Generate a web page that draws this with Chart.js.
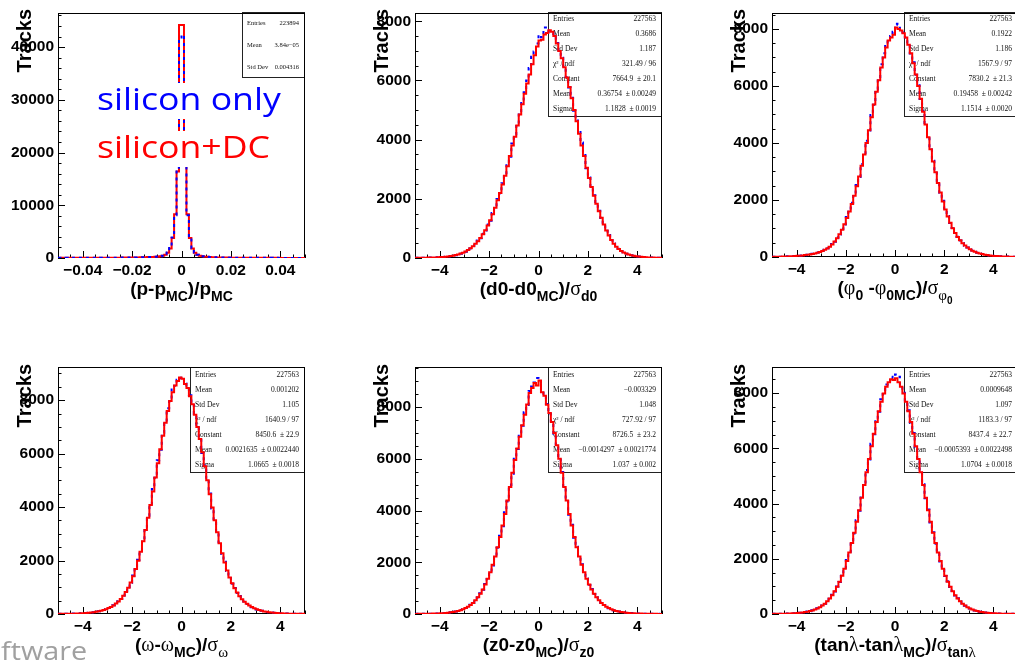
<!DOCTYPE html>
<html>
<head>
<meta charset="utf-8">
<title>Track parameter resolution</title>
<script src="https://cdn.jsdelivr.net/npm/chart.js@4.4.1/dist/chart.umd.min.js"></script>
<style>
  html, body { margin: 0; padding: 0; background: #fff; }
  body { width: 1015px; height: 660px; overflow: hidden; position: relative; }
  canvas { position: absolute; }
</style>
</head>
<body>
<canvas id="pad1" width="357" height="330" style="left:0px;top:0px"></canvas>
<canvas id="pad2" width="357" height="330" style="left:357px;top:0px"></canvas>
<canvas id="pad3" width="306" height="330" style="left:714px;top:0px"></canvas>
<canvas id="pad4" width="357" height="330" style="left:0px;top:330px"></canvas>
<canvas id="pad5" width="357" height="330" style="left:357px;top:330px"></canvas>
<canvas id="pad6" width="306" height="330" style="left:714px;top:330px"></canvas>
<script>
// tick labels
const momentumTicks = [-0.04, -0.02, 0, 0.02, 0.04];
const pullTicks = [-4, -2, 0, 2, 4];
const momentumCountTicks = [0, 10000, 20000, 30000, 40000];
const pullCountTicks = [0, 2000, 4000, 6000, 8000];

// (p-pMC)/pMC, 100 bins in [-0.05, 0.05]
const momentumBlue = [
  24, 22, 25, 27, 25, 28, 27, 31, 30, 33,
  31, 36, 37, 36, 41, 42, 41, 46, 48, 49,
  54, 56, 57, 64, 66, 69, 76, 79, 88, 94,
  98, 110, 116, 130, 138, 155, 168, 180, 204, 232,
  265, 330, 430, 620, 1050, 1900, 3900, 8100, 17100, 41800,
  42300, 17200, 8100, 3900, 1850, 1050, 620, 430, 330, 265,
  220, 178, 152, 128, 117, 101, 95, 83, 80, 70,
  68, 60, 59, 53, 52, 47, 46, 42, 41, 37,
  37, 33, 34, 30, 31, 27, 28, 25, 26, 23,
  24, 21, 23, 20, 21, 19, 20, 17, 19, 16
];
const momentumRed = [
  22, 24, 23, 26, 27, 25, 29, 30, 28, 32,
  33, 35, 34, 38, 40, 39, 43, 45, 47, 50,
  52, 55, 58, 62, 65, 70, 74, 80, 86, 92,
  100, 108, 118, 128, 140, 152, 166, 182, 200, 228,
  260, 320, 420, 600, 1000, 1800, 3800, 8300, 16400, 44200,
  44200, 17500, 8300, 3800, 1800, 1000, 600, 420, 320, 260,
  215, 180, 150, 130, 115, 103, 93, 85, 78, 72,
  66, 62, 58, 54, 51, 48, 45, 43, 40, 38,
  36, 34, 33, 31, 30, 28, 27, 26, 25, 24,
  23, 22, 22, 21, 20, 20, 19, 18, 18, 17
];

// pulls, 100 bins in [-5, 5]
const d0Blue = [
  7, 6, 9, 10, 10, 14, 16, 17, 22, 26,
  29, 38, 42, 55, 63, 83, 95, 124, 145, 185,
  215, 278, 325, 410, 470, 590, 670, 820, 930, 1130,
  1260, 1520, 1680, 1990, 2180, 2530, 2760, 3180, 3420, 3870,
  4180, 4530, 4900, 5280, 5600, 6000, 6420, 6800, 6980, 7250,
  7540, 7460, 7790, 7700, 7650, 7620, 7480, 7270, 6980, 6770,
  6420, 6120, 5760, 5420, 4980, 4650, 4330, 3900, 3480, 3030,
  2720, 2380, 2120, 1810, 1600, 1350, 1150, 920, 775, 600,
  490, 375, 310, 235, 195, 145, 124, 92, 79, 58,
  51, 38, 33, 25, 22, 16, 15, 10, 10, 6
];
const d0Red = [
  6, 7, 8, 9, 11, 13, 15, 18, 21, 25,
  30, 36, 44, 53, 65, 80, 98, 120, 148, 180,
  220, 270, 330, 400, 480, 570, 680, 800, 940, 1100,
  1280, 1480, 1700, 1950, 2200, 2480, 2780, 3100, 3450, 3800,
  4100, 4480, 4850, 5200, 5550, 5900, 6200, 6550, 6850, 7150,
  7350, 7380, 7550, 7600, 7700, 7650, 7500, 7250, 7000, 6750,
  6450, 6100, 5780, 5400, 5000, 4620, 4200, 3800, 3450, 3050,
  2700, 2400, 2100, 1830, 1580, 1360, 1130, 930, 760, 610,
  480, 380, 300, 240, 190, 150, 120, 95, 76, 61,
  49, 40, 32, 26, 21, 17, 14, 11, 9, 7
];

const phi0Blue = [
  9, 8, 12, 12, 16, 17, 22, 24, 31, 34,
  43, 47, 58, 64, 80, 90, 111, 125, 154, 176,
  218, 250, 310, 355, 452, 535, 680, 790, 985, 1140,
  1400, 1590, 1900, 2140, 2530, 2810, 3260, 3590, 4080, 4440,
  4980, 5340, 5880, 6250, 6760, 7150, 7450, 7600, 7750, 7900,
  8185, 8150, 7950, 7880, 7700, 7470, 7140, 6830, 6390, 6030,
  5540, 5130, 4640, 4230, 3770, 3380, 2960, 2630, 2250, 1970,
  1660, 1440, 1190, 1020, 840, 712, 580, 490, 397, 334,
  266, 225, 180, 152, 121, 103, 81, 70, 55, 47,
  37, 32, 25, 22, 16, 15, 11, 11, 7, 8
];
const phi0Red = [
  8, 9, 11, 13, 15, 18, 21, 25, 30, 35,
  41, 48, 56, 66, 78, 92, 108, 127, 150, 178,
  212, 252, 300, 360, 440, 540, 660, 800, 960, 1150,
  1370, 1600, 1860, 2150, 2480, 2820, 3200, 3600, 4000, 4450,
  4900, 5350, 5800, 6200, 6650, 7000, 7350, 7600, 7700, 7800,
  8050, 8000, 7950, 7850, 7700, 7450, 7150, 6800, 6400, 6000,
  5550, 5100, 4650, 4200, 3780, 3350, 2970, 2600, 2260, 1950,
  1670, 1420, 1200, 1010, 845, 705, 585, 485, 400, 330,
  270, 222, 182, 150, 123, 101, 83, 68, 56, 46,
  38, 31, 26, 21, 17, 14, 12, 10, 8, 7
];

const omegaBlue = [
  6, 5, 8, 9, 9, 13, 15, 16, 22, 24,
  32, 36, 47, 54, 70, 80, 104, 120, 154, 178,
  226, 262, 330, 385, 480, 560, 695, 815, 1005, 1170,
  1440, 1670, 2030, 2320, 2780, 3130, 3680, 4060, 4680, 5100,
  5750, 6140, 6780, 7130, 7700, 7960, 8400, 8540, 8760, 8820,
  8850, 8620, 8420, 8180, 7820, 7480, 6980, 6580, 6020, 5560,
  4970, 4510, 3950, 3540, 3030, 2680, 2250, 1950, 1610, 1390,
  1130, 975, 790, 672, 540, 466, 374, 320, 255, 219,
  173, 149, 117, 100, 78, 67, 52, 45, 35, 31,
  24, 21, 16, 15, 11, 10, 7, 8, 5, 6
];
const omegaRed = [
  5, 6, 7, 8, 10, 12, 14, 17, 21, 25,
  30, 37, 45, 55, 67, 82, 100, 122, 149, 181,
  220, 266, 322, 390, 470, 565, 680, 820, 985, 1180,
  1410, 1680, 1990, 2330, 2720, 3140, 3600, 4080, 4580, 5110,
  5640, 6160, 6670, 7150, 7590, 7970, 8300, 8550, 8720, 8850,
  8800, 8600, 8450, 8150, 7850, 7450, 7000, 6550, 6050, 5530,
  5000, 4480, 3980, 3510, 3060, 2650, 2270, 1930, 1630, 1370,
  1150, 960, 800, 662, 550, 458, 380, 314, 260, 215,
  177, 146, 120, 98, 80, 66, 54, 44, 36, 30,
  25, 20, 17, 14, 12, 10, 8, 7, 6, 5
];

const z0Blue = [
  5, 4, 7, 6, 9, 9, 13, 14, 19, 21,
  28, 32, 43, 49, 66, 76, 100, 118, 153, 182,
  235, 279, 358, 424, 541, 638, 800, 940, 1160, 1350,
  1640, 1880, 2260, 2560, 3030, 3390, 3930, 4350, 4990, 5420,
  6050, 6380, 6950, 7280, 7800, 8080, 8620, 8800, 8950, 9120,
  8990, 8600, 8420, 8120, 7740, 7450, 6970, 6550, 5970, 5490,
  4890, 4410, 3840, 3450, 2950, 2600, 2200, 1920, 1590, 1375,
  1125, 962, 775, 652, 522, 437, 344, 288, 225, 189,
  146, 123, 95, 80, 61, 52, 40, 34, 26, 23,
  17, 16, 11, 11, 7, 8, 5, 6, 4, 5
];
const z0Red = [
  4, 5, 6, 7, 8, 10, 12, 15, 18, 22,
  27, 33, 41, 51, 63, 78, 97, 120, 149, 185,
  229, 283, 350, 430, 530, 645, 785, 950, 1140, 1360,
  1610, 1900, 2220, 2580, 2980, 3420, 3870, 4385, 4915, 5460,
  5950, 6400, 6850, 7300, 7700, 8100, 8540, 8740, 8930, 8830,
  9030, 8570, 8440, 8090, 7770, 7420, 7000, 6520, 6000, 5460,
  4915, 4385, 3870, 3420, 2980, 2580, 2220, 1900, 1610, 1360,
  1140, 950, 785, 645, 530, 430, 350, 283, 229, 185,
  149, 120, 97, 78, 63, 51, 41, 33, 27, 22,
  18, 15, 12, 10, 8, 7, 6, 5, 4, 4
];

const tanlBlue = [
  6, 5, 8, 7, 11, 12, 17, 18, 25, 28,
  38, 44, 57, 66, 88, 103, 134, 160, 206, 245,
  312, 372, 470, 555, 695, 815, 1000, 1160, 1420, 1630,
  1960, 2210, 2620, 2920, 3400, 3740, 4280, 4650, 5220, 5600,
  6170, 6510, 7060, 7330, 7780, 7970, 8320, 8390, 8600, 8550,
  8680, 8600, 8250, 8020, 7680, 7380, 6940, 6560, 6060, 5650,
  5120, 4700, 4190, 3790, 3320, 2960, 2550, 2250, 1900, 1660,
  1375, 1185, 975, 830, 672, 568, 454, 380, 300, 252,
  197, 165, 128, 107, 83, 70, 54, 46, 35, 30,
  23, 20, 15, 14, 9, 9, 6, 7, 4, 5
];
const tanlRed = [
  5, 6, 7, 8, 10, 13, 16, 19, 24, 29,
  36, 45, 55, 68, 85, 105, 130, 162, 200, 248,
  305, 375, 460, 560, 680, 820, 985, 1170, 1390, 1640,
  1920, 2230, 2570, 2940, 3340, 3760, 4210, 4670, 5140, 5620,
  6080, 6530, 6960, 7350, 7690, 7990, 8230, 8400, 8510, 8480,
  8540, 8400, 8230, 7990, 7690, 7350, 6960, 6530, 6080, 5620,
  5140, 4670, 4210, 3760, 3340, 2940, 2570, 2230, 1920, 1640,
  1390, 1170, 985, 820, 680, 560, 460, 375, 305, 248,
  200, 162, 130, 105, 85, 68, 55, 45, 36, 29,
  24, 19, 16, 13, 10, 8, 7, 6, 5, 4
];

// statistics boxes
const momentumStats = [['Entries', '223894'], ['Mean', '3.84e\u221205'], ['Std Dev', '0.004316']];
const d0Stats = [['Entries', '227563'], ['Mean', '0.3686'], ['Std Dev', '1.187'], ['\u03c7\u00b2 / ndf', '321.49 / 96'],
  ['Constant', '7664.9  \u00b1 20.1'], ['Mean', '0.36754  \u00b1 0.00249'], ['Sigma', '1.1828  \u00b1 0.0019']];
const phi0Stats = [['Entries', '227563'], ['Mean', '0.1922'], ['Std Dev', '1.186'], ['\u03c7\u00b2 / ndf', '1567.9 / 97'],
  ['Constant', '7830.2  \u00b1 21.3'], ['Mean', '0.19458  \u00b1 0.00242'], ['Sigma', '1.1514  \u00b1 0.0020']];
const omegaStats = [['Entries', '227563'], ['Mean', '0.001202'], ['Std Dev', '1.105'], ['\u03c7\u00b2 / ndf', '1640.9 / 97'],
  ['Constant', '8450.6  \u00b1 22.9'], ['Mean', '0.0021635  \u00b1 0.0022440'], ['Sigma', '1.0665  \u00b1 0.0018']];
const z0Stats = [['Entries', '227563'], ['Mean', '\u22120.003329'], ['Std Dev', '1.048'], ['\u03c7\u00b2 / ndf', '727.92 / 97'],
  ['Constant', '8726.5  \u00b1 23.2'], ['Mean', '\u22120.0014297  \u00b1 0.0021774'], ['Sigma', '1.037  \u00b1 0.002']];
const tanlStats = [['Entries', '227563'], ['Mean', '0.0009648'], ['Std Dev', '1.097'], ['\u03c7\u00b2 / ndf', '1183.3 / 97'],
  ['Constant', '8437.4  \u00b1 22.7'], ['Mean', '\u22120.0005393  \u00b1 0.0022498'], ['Sigma', '1.0704  \u00b1 0.0018']];

const SANS = '"Liberation Sans", Arial, sans-serif';
const SERIF = '"Liberation Serif", "Times New Roman", serif';
const SLIDE = '"Open Sans", "Noto Sans", sans-serif';

// axis titles: [text, level (0 base, 1 sub, 2 subsub), greek]
const runStyle = [{ size: 19, dy: 0 }, { size: 14, dy: 6 }, { size: 10, dy: 10 }];

const panels = [
  {
    id: 'pad1', x0: 0, y0: 0, frame: [58, 12, 305, 258],
    xMin: -0.05, xMax: 0.05, xTicks: momentumTicks, xMinor: 0.005,
    yMax: 46400, yTicks: momentumCountTicks, yMinor: 2000,
    red: momentumRed, blue: momentumBlue, blueOnTop: true,
    box: [242, 12, 305, 78], stats: momentumStats, statFont: 6.5,
    title: [['(p-p', 0], ['MC', 1], [')/p', 0], ['MC', 1]],
    legend: true
  },
  {
    id: 'pad2', x0: 357, y0: 0, frame: [415, 12, 662, 258],
    xMin: -5, xMax: 5, xTicks: pullTicks, xMinor: 0.5,
    yMax: 8270, yTicks: pullCountTicks, yMinor: 500,
    red: d0Red, blue: d0Blue,
    box: [548, 12, 662, 117], stats: d0Stats, statFont: 7.5,
    title: [['(d0-d0', 0], ['MC', 1], [')/', 0], ['\u03c3', 0, true], ['d0', 1]]
  },
  {
    id: 'pad3', x0: 714, y0: 0, frame: [772, 12, 1018, 257],
    xMin: -5, xMax: 5, xTicks: pullTicks, xMinor: 0.5,
    yMax: 8550, yTicks: pullCountTicks, yMinor: 500,
    red: phi0Red, blue: phi0Blue,
    box: [904, 12, 1018, 117], stats: phi0Stats, statFont: 7.5,
    title: [['(', 0], ['\u03c6', 0, true], ['0', 1], [' -', 0], ['\u03c6', 0, true], ['0MC', 1],
      [')/', 0], ['\u03c3', 0, true], ['\u03c6', 1, true], ['0', 2]]
  },
  {
    id: 'pad4', x0: 0, y0: 330, frame: [58, 367, 305, 614],
    xMin: -5, xMax: 5, xTicks: pullTicks, xMinor: 0.5,
    yMax: 9240, yTicks: pullCountTicks, yMinor: 500,
    red: omegaRed, blue: omegaBlue,
    box: [190, 367, 305, 473], stats: omegaStats, statFont: 7.5,
    title: [['(', 0], ['\u03c9', 0, true], ['-', 0], ['\u03c9', 0, true], ['MC', 1], [')/', 0],
      ['\u03c3', 0, true], ['\u03c9', 1, true]],
    footer: true
  },
  {
    id: 'pad5', x0: 357, y0: 330, frame: [415, 367, 662, 614],
    xMin: -5, xMax: 5, xTicks: pullTicks, xMinor: 0.5,
    yMax: 9550, yTicks: pullCountTicks, yMinor: 500,
    red: z0Red, blue: z0Blue,
    box: [548, 367, 662, 473], stats: z0Stats, statFont: 7.5,
    title: [['(z0-z0', 0], ['MC', 1], [')/', 0], ['\u03c3', 0, true], ['z0', 1]]
  },
  {
    id: 'pad6', x0: 714, y0: 330, frame: [772, 367, 1018, 614],
    xMin: -5, xMax: 5, xTicks: pullTicks, xMinor: 0.5,
    yMax: 8950, yTicks: pullCountTicks, yMinor: 500,
    red: tanlRed, blue: tanlBlue,
    box: [904, 367, 1018, 473], stats: tanlStats, statFont: 7.5,
    title: [['(tan', 0], ['\u03bb', 0, true], ['-tan', 0], ['\u03bb', 0, true], ['MC', 1], [')/', 0],
      ['\u03c3', 0, true], ['tan', 1], ['\u03bb', 1, true]]
  }
];

// histogram outline: one point per lower bin edge plus the upper edge
function histPoints(lo, hi, counts) {
  const w = (hi - lo) / counts.length;
  const pts = counts.map((c, i) => ({ x: lo + i * w, y: c }));
  pts.push({ x: hi, y: counts[counts.length - 1] });
  return pts;
}

function fmtTick(v) {
  if (Math.abs(v) < 1e-12) return '0';
  return v < 0 ? '\u2212' + Math.abs(v) : String(v);
}

function runFont(r) {
  const s = runStyle[r[1]];
  return r[2] ? `${s.size + 1}px ${SERIF}` : `bold ${s.size}px ${SANS}`;
}

function drawRuns(ctx, runs, cx, baseline) {
  const widths = runs.map(r => { ctx.font = runFont(r); return ctx.measureText(r[0]).width; });
  let x = cx - widths.reduce((a, b) => a + b, 0) / 2;
  ctx.textAlign = 'left';
  ctx.textBaseline = 'alphabetic';
  runs.forEach((r, i) => {
    ctx.font = runFont(r);
    ctx.fillText(r[0], x, baseline + runStyle[r[1]].dy);
    x += widths[i];
  });
}

function drawStatBox(ctx, p) {
  const x1 = p.box[0] - p.x0, y1 = p.box[1] - p.y0;
  const x2 = p.box[2] - p.x0, y2 = p.box[3] - p.y0;
  ctx.fillStyle = '#fff';
  ctx.fillRect(x1, y1, x2 - x1, y2 - y1);
  ctx.strokeStyle = '#222';
  ctx.lineWidth = 1;
  ctx.strokeRect(x1 + 0.5, y1 + 0.5, x2 - x1 - 1, y2 - y1 - 1);
  const rowH = (y2 - y1) / p.stats.length;
  ctx.font = `${p.statFont}px ${SERIF}`;
  ctx.fillStyle = '#111';
  ctx.textBaseline = 'middle';
  p.stats.forEach(([k, v], i) => {
    const y = y1 + rowH * (i + 0.5);
    ctx.textAlign = 'left';
    ctx.fillText(k, x1 + 5, y);
    ctx.textAlign = 'right';
    ctx.fillText(v, x2 - 6, y);
  });
}

// ROOT style ticks pointing into the frame
function drawTicks(ctx, scale, a, majors, minor, horizontal) {
  const n = Math.floor((scale.max - scale.min) / minor + 1e-6);
  ctx.beginPath();
  for (let k = 0; k <= n; k++) {
    const v = scale.min + k * minor;
    const isMajor = majors.some(t => Math.abs(t - v) < minor * 1e-3);
    const len = isMajor ? 7 : 3.5;
    const px = Math.round(scale.getPixelForValue(v)) + 0.5;
    if (horizontal) { ctx.moveTo(px, a.bottom); ctx.lineTo(px, a.bottom - len); }
    else { ctx.moveTo(a.left, px); ctx.lineTo(a.left + len, px); }
  }
  ctx.stroke();
}

function stretchedText(ctx, text, x, y, font, color, sx, backdrop) {
  ctx.save();
  ctx.font = font;
  ctx.textAlign = 'left';
  ctx.textBaseline = 'alphabetic';
  const w = ctx.measureText(text).width * sx;
  if (backdrop) {
    ctx.fillStyle = '#fff';
    ctx.fillRect(x - 2, y - 27, w + 4, 36);
  }
  ctx.translate(x, y);
  ctx.scale(sx, 1);
  ctx.fillStyle = color;
  ctx.fillText(text, 0, 0);
  ctx.restore();
}

function padDecor(p) {
  return {
    id: 'padDecor',
    beforeDatasetsDraw(chart) {
      const { ctx, chartArea: a, scales } = chart;
      ctx.save();
      drawStatBox(ctx, p);
      ctx.strokeStyle = '#000';
      ctx.lineWidth = 1;
      ctx.strokeRect(Math.round(a.left) + 0.5, Math.round(a.top) + 0.5,
        Math.round(a.right - a.left) - 1, Math.round(a.bottom - a.top) - 1);
      drawTicks(ctx, scales.x, a, p.xTicks, p.xMinor, true);
      drawTicks(ctx, scales.y, a, p.yTicks, p.yMinor, false);
      ctx.restore();
    },
    afterDraw(chart) {
      const { ctx } = chart;
      const [L, T, R, B] = p.frame;
      ctx.save();
      ctx.fillStyle = '#000';
      drawRuns(ctx, p.title, (L + R) / 2 - p.x0, B + 37 - p.y0);

      // y axis title, ending at the top of the frame
      ctx.translate(L - 33 - p.x0, T - 3 - p.y0);
      ctx.rotate(-Math.PI / 2);
      ctx.font = `bold 20px ${SANS}`;
      ctx.textAlign = 'right';
      ctx.textBaseline = 'middle';
      ctx.fillText('Tracks', 0, 0);
      ctx.restore();

      if (p.legend) {
        stretchedText(ctx, 'silicon only', 97 - p.x0, 110 - p.y0, `31px ${SLIDE}`, '#0000ff', 1.15, true);
        stretchedText(ctx, 'silicon+DC', 97 - p.x0, 158 - p.y0, `31px ${SLIDE}`, '#ff0000', 1.15, true);
      }
      if (p.footer) {
        stretchedText(ctx, 'ftware', 1 - p.x0, 660 - p.y0, `25px ${SLIDE}`, '#a0a0a0', 1.15, false);
      }
    }
  };
}

const tickFont = { family: SANS, size: 15.5, weight: 'bold' };

panels.forEach(p => {
  const [L, T, R, B] = p.frame;
  const canvas = document.getElementById(p.id);
  const W = canvas.width, H = canvas.height;
  const xAxisH = 30;
  new Chart(canvas, {
    type: 'line',
    data: {
      datasets: [
        {
          label: 'silicon+DC',
          data: histPoints(p.xMin, p.xMax, p.red),
          borderColor: '#ff0000',
          borderWidth: 2,
          stepped: 'before',
          pointRadius: 0,
          fill: false,
          order: p.blueOnTop ? 1 : 0
        },
        {
          label: 'silicon only',
          data: histPoints(p.xMin, p.xMax, p.blue),
          borderColor: '#0000ff',
          borderWidth: 2,
          borderDash: [3, 4],
          stepped: 'before',
          pointRadius: 0,
          fill: false,
          order: p.blueOnTop ? 0 : 1
        }
      ]
    },
    options: {
      responsive: false,
      animation: false,
      events: [],
      layout: {
        padding: { left: 0, top: T - p.y0, right: W - (R - p.x0), bottom: H - (B - p.y0) - xAxisH }
      },
      plugins: { legend: { display: false }, tooltip: { enabled: false } },
      scales: {
        x: {
          type: 'linear',
          min: p.xMin,
          max: p.xMax,
          afterBuildTicks: s => { s.ticks = p.xTicks.map(v => ({ value: v })); },
          afterFit: s => { s.height = xAxisH; },
          grid: { display: false, drawTicks: false },
          border: { display: false },
          ticks: { padding: 3, color: '#000', font: tickFont, autoSkip: false, maxRotation: 0, callback: fmtTick }
        },
        y: {
          type: 'linear',
          min: 0,
          max: p.yMax,
          afterBuildTicks: s => { s.ticks = p.yTicks.map(v => ({ value: v })); },
          afterFit: s => { s.width = L - p.x0; },
          grid: { display: false, drawTicks: false },
          border: { display: false },
          ticks: { padding: 4, color: '#000', font: tickFont, autoSkip: false, callback: v => String(v) }
        }
      }
    },
    plugins: [padDecor(p)]
  });
});
</script>
</body>
</html>
